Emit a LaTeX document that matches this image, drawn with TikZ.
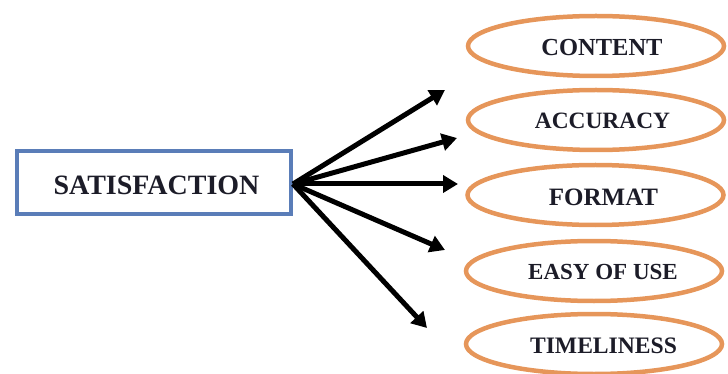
\documentclass[tikz,border=0pt]{standalone}
\usepackage{fontspec}
\setmainfont{Liberation Serif}[BoldFont={Liberation Serif Bold}]
\newfontfamily\labelfont{Liberation Serif Bold}
\usetikzlibrary{arrows.meta,shapes.geometric}
\definecolor{boxblue}{HTML}{5A7DB8}
\definecolor{ovalorange}{HTML}{E6965A}
\definecolor{inkdark}{HTML}{1C1C28}
\tikzset{
  mainbox/.style={draw=boxblue,line width=4.5pt,minimum width=274pt,minimum height=63pt,inner sep=0pt},
  oval/.style={ellipse,draw=ovalorange,line width=4.5pt,minimum width=256pt,minimum height=60pt,inner sep=0pt},
  ovaltext/.style={text=inkdark},
  arr/.style={draw=black,line width=5pt,-{Triangle[length=15pt,width=17pt]}}
}
\begin{document}
\begin{tikzpicture}[x=1pt,y=-1pt]
\useasboundingbox (0,0) rectangle (728,374);
\node[mainbox] (sat) at (154,182.5) {};
\node[text=inkdark,font=\labelfont\fontsize{28}{30}\selectfont] (sattext) at (156.5,185) {SATISFACTION};
\node[oval] (o1) at (596,46) {};
\node[oval] (o2) at (596,120) {};
\node[oval] (o3) at (595.5,195) {};
\node[oval] (o4) at (594,271) {};
\node[oval] (o5) at (594,344) {};
\node[ovaltext,font=\labelfont\fontsize{24.5}{26}\selectfont] (l1) at (602,47.5) {CONTENT};
\node[ovaltext,font=\labelfont\fontsize{23.4}{25}\selectfont] (l2) at (602.5,121) {ACCURACY};
\node[ovaltext,font=\labelfont\fontsize{25}{27}\selectfont] (l3) at (603.5,197) {FORMAT};
\node[ovaltext,font=\labelfont\fontsize{23}{25}\selectfont] (l4) at (603,272) {EASY OF USE};
\node[ovaltext,font=\labelfont\fontsize{23.6}{25}\selectfont] (l5) at (603.5,346) {TIMELINESS};
\coordinate (hub) at (293,184);
\coordinate (t1) at (445,90);
\coordinate (t2) at (457,138);
\coordinate (t3) at (458,184);
\coordinate (t4) at (445,250);
\coordinate (t5) at (427,328);
\foreach \t in {t1,t2,t3,t4,t5}{\draw[arr] (hub) -- (\t);}
\end{tikzpicture}
\end{document}
